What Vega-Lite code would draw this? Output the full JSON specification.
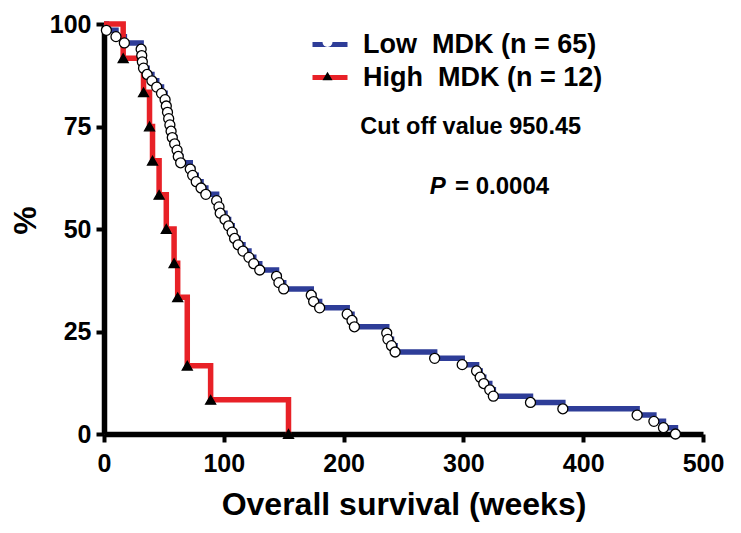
{
  "$schema": "https://vega.github.io/schema/vega-lite/v6.json",
  "width": 599,
  "height": 410,
  "autosize": {"type": "none"},
  "padding": {"left": 104, "top": 24, "right": 38, "bottom": 99},
  "background": "white",
  "config": {
    "view": {"stroke": null},
    "font": "Liberation Sans",
    "axis": {
      "domainColor": "black",
      "domainWidth": 5.5,
      "tickColor": "black",
      "tickWidth": 4,
      "tickSize": 8,
      "labelFont": "Liberation Sans",
      "labelFontWeight": "bold",
      "labelFontSize": 25,
      "labelColor": "black",
      "labelFlush": false,
      "labelOverlap": false,
      "titleFont": "Liberation Sans",
      "titleFontWeight": "bold",
      "titleColor": "black",
      "grid": false
    }
  },
  "datasets": {
    "km": [
      {"arm": "Low", "t": 0, "s": 100},
      {"arm": "Low", "t": 2, "s": 98.46},
      {"arm": "Low", "t": 10, "s": 96.92},
      {"arm": "Low", "t": 17, "s": 95.38},
      {"arm": "Low", "t": 31, "s": 93.85},
      {"arm": "Low", "t": 31.5, "s": 92.31},
      {"arm": "Low", "t": 32, "s": 90.77},
      {"arm": "Low", "t": 33, "s": 89.23},
      {"arm": "Low", "t": 36, "s": 87.69},
      {"arm": "Low", "t": 40, "s": 86.15},
      {"arm": "Low", "t": 44, "s": 84.62},
      {"arm": "Low", "t": 48, "s": 83.08},
      {"arm": "Low", "t": 51, "s": 81.54},
      {"arm": "Low", "t": 52, "s": 80.0},
      {"arm": "Low", "t": 53, "s": 78.46},
      {"arm": "Low", "t": 54, "s": 76.92},
      {"arm": "Low", "t": 55, "s": 75.38},
      {"arm": "Low", "t": 56, "s": 73.85},
      {"arm": "Low", "t": 57, "s": 72.31},
      {"arm": "Low", "t": 59, "s": 70.77},
      {"arm": "Low", "t": 61, "s": 69.23},
      {"arm": "Low", "t": 62, "s": 67.69},
      {"arm": "Low", "t": 64, "s": 66.15},
      {"arm": "Low", "t": 72, "s": 64.62},
      {"arm": "Low", "t": 74, "s": 63.08},
      {"arm": "Low", "t": 77, "s": 61.54},
      {"arm": "Low", "t": 81, "s": 60.0},
      {"arm": "Low", "t": 85, "s": 58.46},
      {"arm": "Low", "t": 94, "s": 56.92},
      {"arm": "Low", "t": 96, "s": 55.38},
      {"arm": "Low", "t": 97, "s": 53.85},
      {"arm": "Low", "t": 101, "s": 52.31},
      {"arm": "Low", "t": 104, "s": 50.77},
      {"arm": "Low", "t": 107, "s": 49.23},
      {"arm": "Low", "t": 109, "s": 47.69},
      {"arm": "Low", "t": 112, "s": 46.15},
      {"arm": "Low", "t": 116, "s": 44.62},
      {"arm": "Low", "t": 121, "s": 43.08},
      {"arm": "Low", "t": 125, "s": 41.54},
      {"arm": "Low", "t": 130, "s": 40.0},
      {"arm": "Low", "t": 144, "s": 38.46},
      {"arm": "Low", "t": 146, "s": 36.92},
      {"arm": "Low", "t": 150, "s": 35.38},
      {"arm": "Low", "t": 173, "s": 33.85},
      {"arm": "Low", "t": 175, "s": 32.31},
      {"arm": "Low", "t": 180, "s": 30.77},
      {"arm": "Low", "t": 203, "s": 29.23},
      {"arm": "Low", "t": 207, "s": 27.69},
      {"arm": "Low", "t": 209, "s": 26.15},
      {"arm": "Low", "t": 236, "s": 24.62},
      {"arm": "Low", "t": 237, "s": 23.08},
      {"arm": "Low", "t": 240, "s": 21.54},
      {"arm": "Low", "t": 243, "s": 20.0},
      {"arm": "Low", "t": 276, "s": 18.46},
      {"arm": "Low", "t": 299, "s": 16.92},
      {"arm": "Low", "t": 311, "s": 15.38},
      {"arm": "Low", "t": 314, "s": 13.85},
      {"arm": "Low", "t": 317, "s": 12.31},
      {"arm": "Low", "t": 322, "s": 10.77},
      {"arm": "Low", "t": 325, "s": 9.23},
      {"arm": "Low", "t": 356, "s": 7.69},
      {"arm": "Low", "t": 383, "s": 6.15},
      {"arm": "Low", "t": 445, "s": 4.62},
      {"arm": "Low", "t": 459, "s": 3.08},
      {"arm": "Low", "t": 467, "s": 1.54},
      {"arm": "Low", "t": 477, "s": 0},
      {"arm": "High", "t": 0, "s": 100},
      {"arm": "High", "t": 16, "s": 91.67},
      {"arm": "High", "t": 33, "s": 83.33},
      {"arm": "High", "t": 38, "s": 75.0},
      {"arm": "High", "t": 40.5, "s": 66.67},
      {"arm": "High", "t": 46, "s": 58.33},
      {"arm": "High", "t": 52, "s": 50.0},
      {"arm": "High", "t": 58.5, "s": 41.67},
      {"arm": "High", "t": 61.5, "s": 33.33},
      {"arm": "High", "t": 69.5, "s": 16.67},
      {"arm": "High", "t": 89, "s": 8.33},
      {"arm": "High", "t": 154, "s": 0}
    ]
  },
  "layer": [
    {
      "data": {"name": "km"},
      "mark": {"type": "line", "interpolate": "step-after", "strokeWidth": 5.5, "strokeCap": "butt"},
      "encoding": {
        "x": {
          "field": "t", "type": "quantitative",
          "scale": {"domain": [0, 500], "nice": false},
          "axis": {
            "values": [0, 100, 200, 300, 400, 500],
            "labelPadding": 9,
            "title": "Overall survival (weeks)",
            "titleFontSize": 32,
            "titleX": 299.5,
            "titleY": 70,
            "titleBaseline": "middle",
            "titleAlign": "center"
          }
        },
        "y": {
          "field": "s", "type": "quantitative",
          "scale": {"domain": [0, 100], "nice": false},
          "axis": {
            "values": [0, 25, 50, 75, 100],
            "labelPadding": 5,
            "title": "%",
            "titleFontSize": 32,
            "titleAngle": -90,
            "titleX": -79,
            "titleY": 196,
            "titleBaseline": "middle",
            "titleAlign": "center"
          }
        },
        "stroke": {
          "field": "arm", "type": "nominal",
          "scale": {"domain": ["Low", "High"], "range": ["#2E3D98", "#E82127"]},
          "legend": {
            "orient": "none",
            "legendX": 206,
            "legendY": 0.5,
            "title": null,
            "padding": 0,
            "zindex": 0,
            "symbolType": "stroke",
            "symbolSize": 1225,
            "symbolStrokeWidth": 5,
            "labelFont": "Liberation Sans",
            "labelFontWeight": "bold",
            "labelFontSize": 27,
            "labelColor": "black",
            "labelOffset": 13,
            "rowPadding": -1,
            "labelLimit": 400,
            "labelExpr": "datum.label === 'Low' ? 'Low\u00a0 MDK (n = 65)' : 'High\u00a0 MDK (n = 12)'"
          }
        }
      }
    },
    {
      "data": {"name": "km"},
      "transform": [{"filter": "datum.t > 0"}],
      "mark": {"type": "point", "filled": true, "stroke": "black", "strokeWidth": 1.3, "size": 100, "opacity": 1},
      "encoding": {
        "x": {"field": "t", "type": "quantitative"},
        "y": {"field": "s", "type": "quantitative"},
        "shape": {
          "field": "arm", "type": "nominal", "sort": "descending",
          "scale": {"range": ["circle", "triangle-up"]},
          "legend": {
            "orient": "none",
            "legendX": 210.5,
            "legendY": 5,
            "title": null,
            "padding": 0,
            "zindex": 2,
            "symbolSize": 100,
            "symbolStrokeColor": "black",
            "symbolStrokeWidth": 1.3,
            "labelFontSize": 26,
            "rowPadding": 8,
            "labelExpr": "'\u00a0'",
            "encode": {"symbols": {"update": {"stroke": {"value": "black"}, "strokeWidth": {"value": 1.3}}}}
          }
        },
        "fill": {
          "field": "arm", "type": "nominal", "sort": "descending",
          "scale": {"range": ["white", "black"]},
          "legend": {
            "orient": "none",
            "legendX": 210.5,
            "legendY": 5,
            "title": null,
            "padding": 0,
            "zindex": 2,
            "symbolSize": 100,
            "symbolStrokeColor": "black",
            "symbolStrokeWidth": 1.3,
            "labelFontSize": 26,
            "rowPadding": 8,
            "labelExpr": "'\u00a0'",
            "encode": {"symbols": {"update": {"stroke": {"value": "black"}, "strokeWidth": {"value": 1.3}}}}
          }
        }
      }
    },
    {
      "data": {"values": [{"note": "Cut off value 950.45"}]},
      "mark": {"type": "text", "align": "left", "baseline": "middle", "font": "Liberation Sans", "fontWeight": "bold", "fontSize": 23.5, "color": "black"},
      "encoding": {
        "x": {"datum": 214},
        "y": {"datum": 75},
        "text": {"field": "note"}
      }
    },
    {
      "data": {"values": [{"note": "P"}]},
      "mark": {"type": "text", "align": "left", "baseline": "middle", "font": "Liberation Sans", "fontWeight": "bold", "fontStyle": "italic", "fontSize": 24, "color": "black"},
      "encoding": {
        "x": {"datum": 272},
        "y": {"datum": 60.2},
        "text": {"field": "note"}
      }
    },
    {
      "data": {"values": [{"note": "= 0.0004"}]},
      "mark": {"type": "text", "align": "left", "baseline": "middle", "font": "Liberation Sans", "fontWeight": "bold", "fontSize": 24, "color": "black"},
      "encoding": {
        "x": {"datum": 293},
        "y": {"datum": 60.2},
        "text": {"field": "note"}
      }
    }
  ]
}
